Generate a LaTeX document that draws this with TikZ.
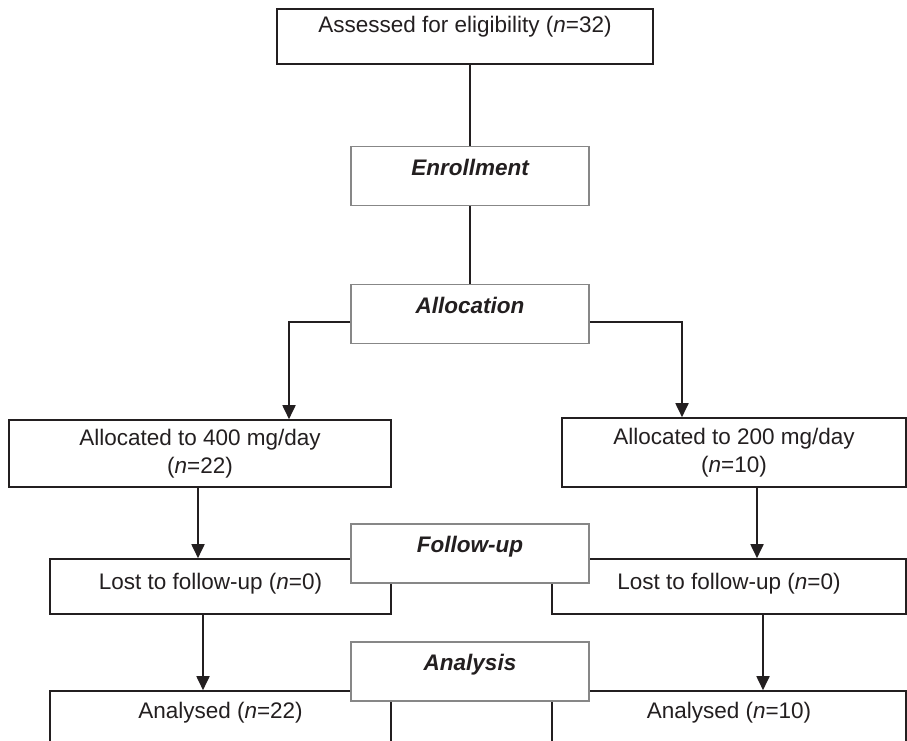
\documentclass[tikz,border=0pt]{standalone}
\usepackage{fontspec}
\setmainfont{Liberation Sans}
\usetikzlibrary{arrows.meta}
\usepackage{xcolor}
\definecolor{FlowDark}{RGB}{35,31,32}
\definecolor{FlowGrey}{RGB}{135,135,135}

\begin{document}
\begin{tikzpicture}[
x=1pt,y=-1pt,
box/.style={
    rectangle,
    draw=FlowDark,
    fill=white,
    line width=1.6pt,
    align=center,
    inner sep=0pt,
    text=FlowDark,
    font=\fontsize{22.5}{28}\selectfont
},
stage/.style={
    box,
    draw=FlowGrey,
    line width=1.8pt,
    minimum width=238pt,
    minimum height=59pt,
    text height=16pt,
    text depth=18pt,
    font=\fontsize{22.5}{28}\selectfont\bfseries\itshape
},
line/.style={line width=1.8pt,draw=FlowDark},
arrow/.style={line,-{Triangle[length=14pt,width=13pt]}}
]
\useasboundingbox (0,0) rectangle (907,741);

\node[box,minimum width=376pt,minimum height=55pt,text height=16pt,text depth=23pt] (elig) at (465,36.5) {Assessed for eligibility (\textit{n}=32)};
\node[stage] (enrol) at (470,176) {Enrollment};
\node[stage] (alloc) at (470,314) {Allocation};

\node[box,minimum width=382pt,minimum height=67pt] (grpA) at (200,453.5) {Allocated to 400 mg/day\\(\textit{n}=22)};
\node[box,minimum width=344pt,minimum height=69pt] (grpB) at (734,452.5) {Allocated to 200 mg/day\\(\textit{n}=10)};

\node[box,minimum width=341pt,minimum height=55pt,text height=16pt,text depth=11pt] (lostA) at (220.5,586.5) {Lost to follow-up (\textit{n}=0)\hspace*{20pt}};
\node[box,minimum width=354pt,minimum height=55pt,text height=16pt,text depth=11pt] (lostB) at (729,586.5) {Lost to follow-up (\textit{n}=0)};
\node[stage] (fup) at (470,553.5) {Follow-up};

\node[box,minimum width=341pt,minimum height=55pt,text height=16pt,text depth=17pt] (anaA) at (220.5,718.5) {Analysed (\textit{n}=22)};
\node[box,minimum width=354pt,minimum height=55pt,text height=16pt,text depth=17pt] (anaB) at (729,718.5) {Analysed (\textit{n}=10)};
\node[stage] (ana) at (470,671.5) {Analysis};

% bends and arrow columns
\coordinate (bendA) at (289,322);
\coordinate (bendB) at (682,322);
\coordinate (colA1) at (198,0);
\coordinate (colA2) at (203,0);
\coordinate (colB1) at (757,0);
\coordinate (colB2) at (763,0);

\draw[line] (elig.south -| enrol.north) -- (enrol.north);
\draw[line] (enrol) -- (alloc);
\draw[arrow] (alloc.west |- bendA) -- (bendA) -- (bendA |- grpA.north);
\draw[arrow] (alloc.east |- bendB) -- (bendB) -- (bendB |- grpB.north);

\draw[arrow] (grpA.south -| colA1) -- (lostA.north -| colA1);
\draw[arrow] (grpB.south -| colB1) -- (lostB.north -| colB1);
\draw[arrow] (lostA.south -| colA2) -- (anaA.north -| colA2);
\draw[arrow] (lostB.south -| colB2) -- (anaB.north -| colB2);

\end{tikzpicture}
\end{document}
